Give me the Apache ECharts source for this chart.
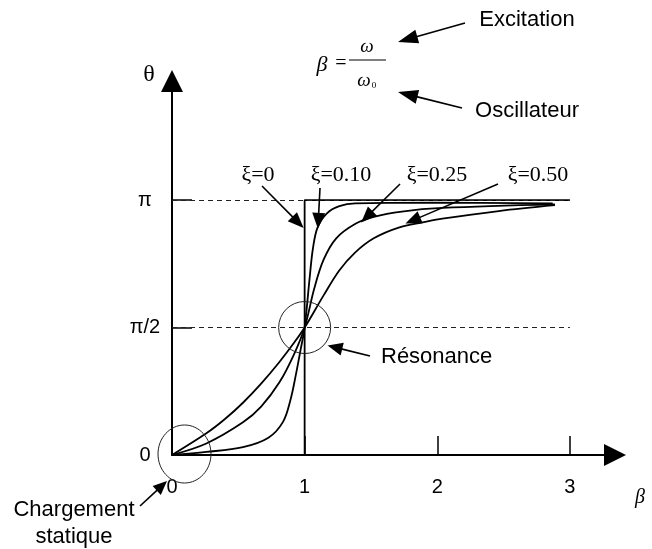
<!DOCTYPE html>
<html>
<head>
<meta charset="utf-8">
<script src="https://cdn.jsdelivr.net/npm/echarts@6/dist/echarts.min.js"></script>
<style>
  html, body { margin: 0; background: #fff; }
  #main { width: 652px; height: 549px; }
</style>
</head>
<body>
<div id="main"></div>
<script>
// beta = omega / omega0 ; theta given in units of pi
const betaXi0 = [0, 1, 1, 3]
const thetaXi0 = [0, 0, 1, 1]

const betaXi010 = [0, 0.259, 0.535, 0.727, 0.837, 0.893, 0.934, 0.970, 1.0, 1.038, 1.062, 1.097, 1.168, 1.262, 1.381, 1.972, 2.870]
const thetaXi010 = [0, 0.012, 0.031, 0.068, 0.130, 0.216, 0.315, 0.414, 0.5, 0.696, 0.808, 0.892, 0.948, 0.976, 0.987, 0.990, 0.987]

const betaXi025 = [0, 0.259, 0.535, 0.672, 0.810, 0.920, 1.0, 1.073, 1.143, 1.238, 1.380, 1.521, 1.733, 2.039, 2.887]
const thetaXi025 = [0, 0.045, 0.128, 0.190, 0.285, 0.395, 0.5, 0.654, 0.766, 0.850, 0.906, 0.934, 0.955, 0.969, 0.983]

const betaXi050 = [0, 0.259, 0.397, 0.535, 0.672, 0.810, 0.920, 1.0, 1.143, 1.261, 1.380, 1.521, 1.709, 1.898, 2.039, 2.463, 2.887]
const thetaXi050 = [0, 0.085, 0.140, 0.205, 0.280, 0.365, 0.440, 0.5, 0.626, 0.724, 0.794, 0.850, 0.892, 0.913, 0.927, 0.957, 0.980]

const betaTicks = [0, 1, 2, 3]
const thetaTicks = [0, 0.5, 1]
const thetaTickText = ['0', 'π/2', 'π']
const refLevels = [0.5, 1]
const refEnd = 3

const SANS = '"Liberation Sans", Arial, sans-serif'
const SERIF = '"Liberation Serif", "Times New Roman", serif'

function zip(xs, ys) {
  return xs.map((x, i) => [x, ys[i]])
}

const curve = (name, xs, ys, smooth) => ({
  name,
  type: 'line',
  data: zip(xs, ys),
  showSymbol: false,
  smooth,
  lineStyle: { color: '#000', width: 1.8 },
  z: 3
})

const xi0 = curve('ξ=0', betaXi0, thetaXi0, false)
xi0.markLine = {
  silent: true,
  symbol: ['none', 'none'],
  label: { show: false },
  lineStyle: { color: '#222', width: 1, type: [5, 4] },
  data: refLevels.map(v => [{ coord: [0, v] }, { coord: [refEnd, v] }])
}

const option = {
  animation: false,
  backgroundColor: '#fff',
  grid: { left: 172, top: 81, width: 443, height: 374 },
  xAxis: {
    type: 'value', min: 0, max: 3.34,
    splitLine: { show: false },
    axisLine: { symbol: ['none', 'triangle'], symbolSize: [22, 22], lineStyle: { color: '#000', width: 2 } },
    axisTick: { customValues: betaTicks.slice(1), inside: true, length: 19, lineStyle: { color: '#000', width: 1.5 } },
    axisLabel: { customValues: betaTicks, margin: 22, fontSize: 20, color: '#000', fontFamily: SANS }
  },
  yAxis: {
    type: 'value', min: 0, max: 1.467,
    splitLine: { show: false },
    axisLine: { symbol: ['none', 'triangle'], symbolSize: [22, 22], lineStyle: { color: '#000', width: 2 } },
    axisTick: { customValues: thetaTicks.slice(1), inside: true, length: 20, lineStyle: { color: '#000', width: 1.5 } },
    axisLabel: {
      customValues: thetaTicks, margin: 27, align: 'center', fontSize: 20, color: '#000', fontFamily: SANS,
      formatter: v => thetaTickText[thetaTicks.indexOf(v)] || ''
    }
  },
  series: [
    xi0,
    curve('ξ=0.10', betaXi010, thetaXi010, 0.35),
    curve('ξ=0.25', betaXi025, thetaXi025, 0.35),
    curve('ξ=0.50', betaXi050, thetaXi050, 0.35)
  ]
}

const chart = echarts.init(document.getElementById('main'))
chart.setOption(option)

const P = (b, t) => chart.convertToPixel({ gridIndex: 0 }, [b, t])

function text(str, x, y, font, align) {
  return {
    type: 'text', x, y, silent: true, z: 10,
    style: { text: str, font, fill: '#000', textAlign: align || 'center', textVerticalAlign: 'middle' }
  }
}

function arrow(x1, y1, x2, y2, len, wid) {
  const a = Math.atan2(y2 - y1, x2 - x1)
  const bx = x2 - len * Math.cos(a)
  const by = y2 - len * Math.sin(a)
  const nx = -Math.sin(a) * wid / 2
  const ny = Math.cos(a) * wid / 2
  return [
    { type: 'line', silent: true, z: 10, shape: { x1, y1, x2: bx + Math.cos(a), y2: by + Math.sin(a) }, style: { stroke: '#000', lineWidth: 1.6 } },
    { type: 'polygon', silent: true, z: 10, shape: { points: [[x2, y2], [bx + nx, by + ny], [bx - nx, by - ny]] }, style: { fill: '#000' } }
  ]
}

const res = P(1, 0.5)
const org = P(0, 0)
const tip0 = P(1, 0.89)
const tip10 = P(1.1, 0.887)
const tip25 = P(1.426, 0.912)
const tip50 = P(1.76, 0.908)

const graphic = [
  // formula beta = omega / omega0
  text('β', 322, 65, 'italic 22px ' + SERIF),
  text('=', 341, 64, '20px ' + SERIF),
  { type: 'line', silent: true, shape: { x1: 349, y1: 60, x2: 386, y2: 60 }, style: { stroke: '#000', lineWidth: 1 } },
  text('ω', 367, 47, 'italic 19px ' + SERIF),
  text('ω', 364, 81, 'italic 19px ' + SERIF),
  text('0', 374, 86, '9px ' + SERIF),
  text('Excitation', 527, 20, '22px ' + SANS),
  text('Oscillateur', 527, 111, '22px ' + SANS),
  ...arrow(465, 23, 398, 42, 20, 14),
  ...arrow(462, 108, 398, 92, 20, 14),
  // axis names
  text('θ', 149, 75, '24px ' + SERIF),
  text('β', 640, 498, 'italic 20px ' + SERIF),
  // damping labels
  text('ξ=0', 258, 175, '22px ' + SERIF),
  text('ξ=0.10', 341, 175, '22px ' + SERIF),
  text('ξ=0.25', 437, 175, '22px ' + SERIF),
  text('ξ=0.50', 538, 175, '22px ' + SERIF),
  ...arrow(262, 186, tip0[0] - 1, tip0[1], 16, 13),
  ...arrow(320, 188, tip10[0], tip10[1], 16, 13),
  ...arrow(400, 184, tip25[0], tip25[1], 16, 13),
  ...arrow(498, 184, tip50[0], tip50[1], 16, 13),
  // resonance
  { type: 'circle', silent: true, z: 9, shape: { cx: res[0], cy: res[1], r: 26 }, style: { fill: 'none', stroke: '#222', lineWidth: 1 } },
  ...arrow(370, 356, res[0] + 23, res[1] + 18, 15, 13),
  text('Résonance', 381, 357, '22px ' + SANS, 'left'),
  // static loading
  { type: 'ellipse', silent: true, z: 9, shape: { cx: org[0] + 12.5, cy: org[1] - 1, rx: 26.5, ry: 29 }, style: { fill: 'none', stroke: '#222', lineWidth: 1 } },
  ...arrow(140, 506, org[0] - 5, org[1] + 26, 14, 12),
  text('Chargement', 74, 510, '22px ' + SANS),
  text('statique', 74, 537, '22px ' + SANS)
]

chart.setOption({ graphic })
</script>
</body>
</html>
